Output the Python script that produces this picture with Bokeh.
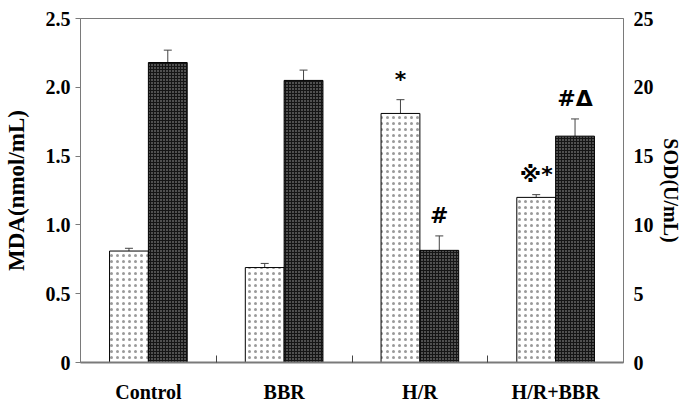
import numpy as np
from bokeh.plotting import figure
from bokeh.models import (ColumnDataSource, Range1d, LinearAxis, FixedTicker,
                          CustomJSTickFormatter, Whisker, TeeHead)
from bokeh.core.properties import value
from bokeh.embed import file_html
from bokeh.resources import INLINE

categories = ["Control", "BBR", "H/R", "H/R+BBR"]
mda_mean = [0.81, 0.69, 1.81, 1.20]
mda_err = [0.02, 0.03, 0.10, 0.02]
sod_mean = [21.8, 20.5, 8.15, 16.45]
sod_err = [0.9, 0.75, 1.05, 1.25]
mda_marks = ["", "", "*", "※*"]
sod_marks = ["", "", "#", "#Δ"]
mda_ticks = [0, 0.5, 1.0, 1.5, 2.0, 2.5]
sod_ticks = [0, 5, 10, 15, 20, 25]

SERIF = "Liberation Serif"
GRAY = "#7a7a7a"
OFF = 0.143
BW = 0.286

idx = np.arange(len(categories))
src = ColumnDataSource(dict(
    x_mda=idx + 0.5 - OFF,
    x_sod=idx + 0.5 + OFF,
    mda=mda_mean,
    mda_top=np.add(mda_mean, mda_err),
    sod=sod_mean,
    sod_top=np.add(sod_mean, sod_err),
    mda_marks=mda_marks,
    sod_marks=sod_marks,
))

p = figure(width=685, height=405, output_backend="svg", toolbar_location=None,
           x_range=Range1d(0, len(categories)), y_range=Range1d(0, 2.5),
           min_border_left=78, min_border_right=62, min_border_top=18,
           min_border_bottom=42)
p.extra_y_ranges = {"sod": Range1d(0, 25)}
p.xgrid.visible = False
p.ygrid.visible = False
p.outline_line_color = GRAY
p.background_fill_color = "white"

p.vbar(x="x_mda", top="mda", bottom=0, width=BW, source=src,
       fill_color="white", line_color="black", line_width=1,
       hatch_pattern="dot", hatch_color="#9a9a9a", hatch_scale=6, hatch_weight=0.5)
p.vbar(x="x_sod", top="sod", bottom=0, width=BW, source=src, y_range_name="sod",
       fill_color="#151515", line_color="black", line_width=1,
       hatch_pattern="dot", hatch_color="#a8a8a8", hatch_scale=3, hatch_weight=1)

p.add_layout(Whisker(base="x_mda", lower="mda", upper="mda_top", source=src,
                     line_color="#444444", line_width=1, lower_head=None,
                     upper_head=TeeHead(size=8, line_color="#444444", line_width=1)))
p.add_layout(Whisker(base="x_sod", lower="sod", upper="sod_top", source=src,
                     y_range_name="sod",
                     line_color="#444444", line_width=1, lower_head=None,
                     upper_head=TeeHead(size=8, line_color="#444444", line_width=1)))

for xcol, ycol, tcol, rng, yo in [("x_mda", "mda_top", "mda_marks", "default", -20),
                                  ("x_sod", "sod_top", "sod_marks", "sod", -20)]:
    p.text(x=xcol, y=ycol, text=tcol, source=src, y_range_name=rng,
           y_offset=yo, text_align="center", text_baseline="middle",
           text_font=value("DejaVu Sans"), text_font_size="22px",
           text_font_style="bold", text_color="black")

# left axis
ya = p.yaxis[0]
ya.ticker = FixedTicker(ticks=mda_ticks)
ya.formatter = CustomJSTickFormatter(code="return tick == 0 ? '0' : tick.toFixed(1);")
ya.axis_label = "MDA(nmol/mL)"
ya.axis_label_text_font = SERIF
ya.axis_label_text_font_style = "bold"
ya.axis_label_text_font_size = "23px"
ya.axis_label_text_color = "black"
ya.axis_label_standoff = 14
ya.major_label_text_font = SERIF
ya.major_label_text_font_style = "bold"
ya.major_label_text_font_size = "20px"
ya.major_label_text_color = "black"
ya.major_label_standoff = 5
ya.major_tick_out = 5
ya.major_tick_in = 0
ya.minor_tick_out = 0
ya.minor_tick_in = 0
ya.axis_line_color = GRAY
ya.major_tick_line_color = GRAY

# right axis
ra = LinearAxis(y_range_name="sod", ticker=FixedTicker(ticks=sod_ticks),
                axis_label="SOD(U/mL)")
ra.formatter = CustomJSTickFormatter(code="return tick.toFixed(0);")
ra.axis_label_text_font = SERIF
ra.axis_label_text_font_style = "bold"
ra.axis_label_text_font_size = "20px"
ra.axis_label_text_color = "black"
ra.axis_label_standoff = 3
ra.major_label_text_font = SERIF
ra.major_label_text_font_style = "bold"
ra.major_label_text_font_size = "20px"
ra.major_label_text_color = "black"
ra.major_label_standoff = 10
ra.major_tick_out = 0
ra.major_tick_in = 0
ra.minor_tick_out = 0
ra.minor_tick_in = 0
ra.axis_line_color = GRAY
p.add_layout(ra, "right")

# bottom axis
xa = p.xaxis[0]
xa.ticker = FixedTicker(ticks=list(idx + 0.5), minor_ticks=list(range(1, len(categories))))
xa.formatter = CustomJSTickFormatter(args=dict(cats=categories),
                                     code="return cats[Math.floor(tick)];")
xa.major_label_text_font = SERIF
xa.major_label_text_font_style = "bold"
xa.major_label_text_font_size = "20px"
xa.major_label_text_color = "black"
xa.major_label_standoff = 18
xa.major_tick_in = 0
xa.major_tick_out = 0
xa.minor_tick_in = 7
xa.minor_tick_out = 0
xa.minor_tick_line_color = "#444444"
xa.axis_line_color = GRAY
xa.axis_line_width = 2

open("out.html", "w").write(file_html(p, INLINE))
